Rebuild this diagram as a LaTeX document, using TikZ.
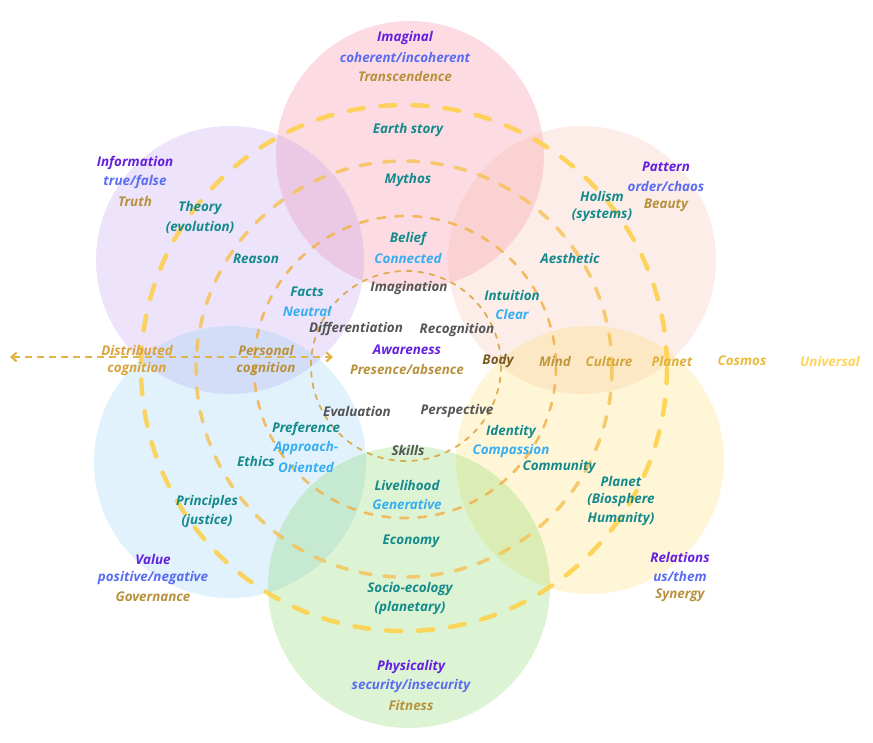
\documentclass[tikz,border=0pt]{standalone}
\usepackage{fontspec}
\setmainfont{Open Sans}
\usepackage{tikz}
\usetikzlibrary{arrows.meta}
\definecolor{PetPink}{RGB}{245,115,140}
\definecolor{PetLav}{RGB}{183,143,235}
\definecolor{PetPeach}{RGB}{247,183,163}
\definecolor{PetBlue}{RGB}{135,203,243}
\definecolor{PetYellow}{RGB}{251,219,91}
\definecolor{PetGreen}{RGB}{115,211,83}
\definecolor{TitlePurple}{HTML}{6420E0}
\definecolor{PairBlue}{HTML}{5A6CF2}
\definecolor{GoldText}{HTML}{B8913C}
\definecolor{TealText}{HTML}{148A8C}
\definecolor{SkyText}{HTML}{38AEF2}
\definecolor{GreyText}{HTML}{555555}
\definecolor{RingA}{HTML}{D9A33A}
\definecolor{RingB}{HTML}{F2B24A}
\definecolor{RingC}{HTML}{F5C45A}
\definecolor{RingD}{HTML}{FFD045}
\definecolor{ArrowGold}{HTML}{E3B44A}
\tikzset{
  petal/.style={fill=#1, fill opacity=0.25, draw=none},
  ring/.style={draw=#1, draw opacity=0.85, line cap=round},
  lbl/.style={font=\fontsize{13.4}{15}\selectfont\bfseries\itshape, inner sep=0pt},
  ttl/.style={lbl, text=TitlePurple},
  pair/.style={lbl, text=PairBlue},
  gold/.style={lbl, text=GoldText},
  teal/.style={lbl, text=TealText},
  sky/.style={lbl, text=SkyText},
  grey/.style={lbl, text=GreyText},
}

\begin{document}
\begin{tikzpicture}[x=1pt, y=-1pt, node distance=19pt]
    \useasboundingbox (0,0) rectangle (873,742);
    % petals
    \fill [petal=PetPink] (410,155) circle (134);
    \fill [petal=PetLav] (230,260) circle (134);
    \fill [petal=PetPeach] (582,260) circle (134);
    \fill [petal=PetBlue] (230,462) circle (136);
    \fill [petal=PetYellow] (590,460) circle (134);
    \fill [petal=PetGreen] (409,587) circle (141);
    % rings
    \draw [ring=RingA, line width=1.8, dash pattern=on 5 off 6.5] (406,366) circle (95);
    \draw [ring=RingB, line width=2.6, dash pattern=on 8 off 10] (405,367) circle (151);
    \draw [ring=RingC, line width=3.5, dash pattern=on 11 off 13] (404,369) circle (208);
    \draw [ring=RingD, line width=4.5, dash pattern=on 15 off 17] (404,368) circle (263);
    % arrow
    \coordinate (ArrowL) at (10,357);
    \coordinate (ArrowR) at (333,357);
    \draw [ArrowGold, line width=2.2, dash pattern=on 7 off 5, {Straight Barb[length=5pt,width=9pt]}-{Straight Barb[length=5pt,width=9pt]}] (ArrowL) -- (ArrowR);

    % top
    \node (Imaginal) [ttl] at (405,38) {Imaginal};
    \node (Coherent) [pair, below of=Imaginal] {coherent/incoherent};
    \node (Transc) [gold, below of=Coherent] {Transcendence};
    \node (Earth) [teal] at (408,130) {Earth story};
    \node (Mythos) [teal] at (408,180) {Mythos};
    \node (Belief) [teal] at (408,239) {Belief};
    \node (Connected) [sky, below of=Belief] {Connected};
    \node (Imagination) [grey] at (409,288) {Imagination};
    % upper left
    \node (Information) [ttl] at (135,163) {Information};
    \node (TrueFalse) [pair, below of=Information] {true/false};
    \node (Truth) [gold, below of=TrueFalse] {Truth};
    \node (Theory) [teal] at (200,208) {Theory};
    \node (Evolution) [teal, below of=Theory] {(evolution)};
    \node (Reason) [teal] at (256,259) {Reason};
    \node (Facts) [teal] at (307,292) {Facts};
    \node (Neutral) [sky, below of=Facts] {Neutral};
    \node (Differentiation) [grey] at (356,329) {Differentiation};
    % upper right
    \node (Pattern) [ttl] at (666,167) {Pattern};
    \node (OrderChaos) [pair, below of=Pattern] {order/chaos};
    \node (Beauty) [gold, below of=OrderChaos] {Beauty};
    \node (Holism) [teal] at (602,196) {Holism};
    \node (Systems) [teal, below of=Holism] {(systems)};
    \node (Aesthetic) [teal] at (570,258) {Aesthetic};
    \node (Intuition) [teal] at (512,295) {Intuition};
    \node (Clear) [sky, below of=Intuition] {Clear};
    \node (Recognition) [grey] at (457,330) {Recognition};
    % middle
    \node (Awareness) [ttl] at (407,350) {Awareness};
    \node (Presence) [gold, below of=Awareness] {Presence/absence};
    \node (Distributed) [lbl, text=RingA] at (137,350) {Distributed};
    \node (DistCog) [lbl, text=RingA, below of=Distributed] {cognition};
    \node (Personal) [lbl, text=GoldText] at (266,350) {Personal};
    \node (PersCog) [lbl, text=GoldText, below of=Personal] {cognition};
    \node (Body) [lbl, text={rgb,255:red,122;green,90;blue,30}] at (498,361) {Body};
    \node (Mind) [lbl, text={rgb,255:red,192;green,150;blue,60}] at (555,361) {Mind};
    \node (Culture) [lbl, text={rgb,255:red,212;green,165;blue,60}] at (609,361) {Culture};
    \node (PlanetScale) [lbl, text={rgb,255:red,224;green,176;blue,60}] at (672,361) {Planet};
    \node (Cosmos) [lbl, text={rgb,255:red,233;green,187;blue,62}] at (742,361) {Cosmos};
    \node (Universal) [lbl, text={rgb,255:red,255;green,212;blue,90}] at (830,361) {Universal};
    % lower left
    \node (Evaluation) [grey] at (357,411) {Evaluation};
    \node (Perspective) [grey] at (457,411) {Perspective};
    \node (Preference) [teal] at (306,429) {Preference};
    \node (Approach) [sky, below of=Preference] {Approach-};
    \node (Oriented) [sky, below of=Approach] {Oriented};
    \node (Ethics) [teal] at (256,461) {Ethics};
    \node (Principles) [teal] at (207,502) {Principles};
    \node (Justice) [teal, below of=Principles] {(justice)};
    \node (Value) [ttl] at (153,559) {Value};
    \node (PosNeg) [pair, below of=Value] {positive/negative};
    \node (Governance) [gold, below of=PosNeg] {Governance};
    % bottom
    \node (Skills) [grey] at (408,450) {Skills};
    \node (Livelihood) [teal] at (407,485) {Livelihood};
    \node (Generative) [sky, below of=Livelihood] {Generative};
    \node (Economy) [teal] at (411,541) {Economy};
    \node (Socio) [teal] at (410,589) {Socio-ecology};
    \node (Planetary) [teal, below of=Socio] {(planetary)};
    \node (Physicality) [ttl] at (411,667) {Physicality};
    \node (Security) [pair, below of=Physicality] {security/insecurity};
    \node (Fitness) [gold, below of=Security] {Fitness};
    % lower right
    \node (Identity) [teal] at (511,432) {Identity};
    \node (Compassion) [sky, below of=Identity] {Compassion};
    \node (Community) [teal] at (559,467) {Community};
    \node (PlanetBio) [teal] at (621,481) {Planet};
    \node (Biosphere) [teal, below of=PlanetBio] {(Biosphere};
    \node (Humanity) [teal, below of=Biosphere] {Humanity)};
    \node (Relations) [ttl] at (680,557) {Relations};
    \node (UsThem) [pair, below of=Relations] {us/them};
    \node (Synergy) [gold, below of=UsThem] {Synergy};
\end{tikzpicture}
\end{document}
